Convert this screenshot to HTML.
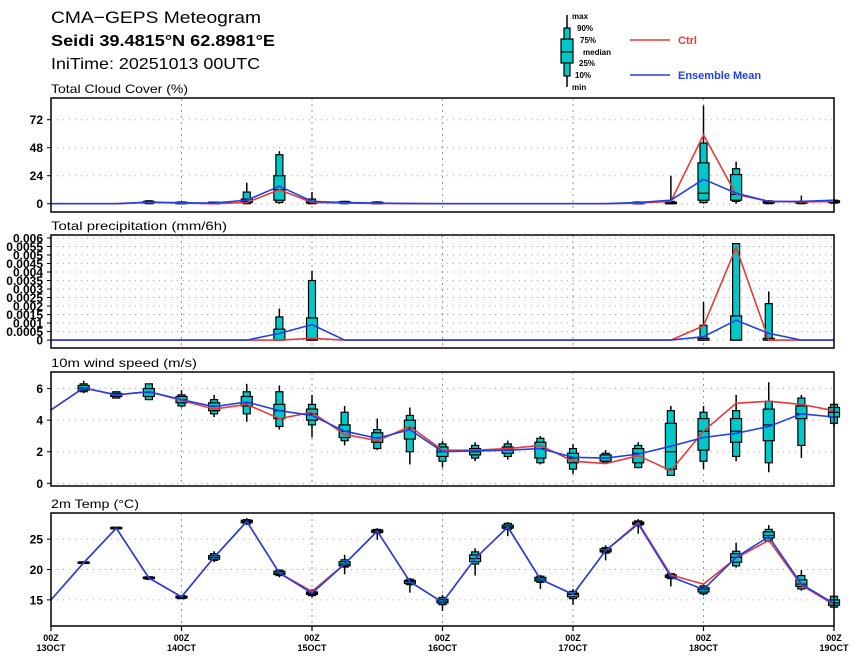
<!DOCTYPE html>
<html><head><meta charset="utf-8"><style>
html,body{margin:0;padding:0;background:#fff}
svg{display:block;font-family:"Liberation Sans",sans-serif}
</style></head><body>
<svg id="chart" width="860" height="663" viewBox="0 0 860 663" xmlns="http://www.w3.org/2000/svg">
<g>
<text x="51" y="23" font-size="17" textLength="210" lengthAdjust="spacingAndGlyphs">CMA−GEPS Meteogram</text>
<text x="51" y="46" font-size="16" font-weight="bold" textLength="224" lengthAdjust="spacingAndGlyphs">Seidi 39.4815°N 62.8981°E</text>
<text x="51" y="69" font-size="16" textLength="209" lengthAdjust="spacingAndGlyphs">IniTime: 20251013 00UTC</text>
</g>
<g font-size="8" font-weight="bold">
<line x1="567" y1="15" x2="567" y2="87" stroke="#000" stroke-width="1.5"/>
<rect x="564" y="28" width="6" height="48" fill="#00c8c8" stroke="#000" stroke-width="1.2"/>
<rect x="561" y="39" width="12" height="24" fill="#00c8c8" stroke="#000" stroke-width="1.2"/>
<line x1="561" y1="52" x2="573" y2="52" stroke="#000" stroke-width="1.2"/>
<text x="572" y="19">max</text><text x="577" y="31">90%</text><text x="580" y="43">75%</text>
<text x="583" y="55">median</text><text x="579" y="66">25%</text><text x="575" y="78">10%</text><text x="572" y="90">min</text>
<line x1="630" y1="40" x2="670" y2="40" stroke="#e83838" stroke-width="1.5"/>
<text x="678" y="44" font-size="11" fill="#e83838">Ctrl</text>
<line x1="630" y1="75" x2="670" y2="75" stroke="#2040e8" stroke-width="1.5"/>
<text x="678" y="79" font-size="11" fill="#2040e8">Ensemble Mean</text>
</g>
</svg>
<script>
const dayLabels = ["13OCT","14OCT","15OCT","16OCT","17OCT","18OCT","19OCT"];
// box tuples: [min,p10,p25,median,p75,p90,max], index 1..24 (index 0 none)
const cloudCtrl = [0,0,0,1,0.5,0,1,12,1,0.5,0.3,0,0,0,0,0,0,0,0.5,2,59,8,2,1.5,2];
const cloudMean = [0,0,0,1.5,0.8,0.5,3,15,2,1,0.5,0.3,0,0,0,0,0,0,1,3,21,9,2,2,3];
const cloudBox = [null,null,null,[0,0,0.5,1,2,2.5,3],[0,0,0,0.5,1,1.5,2],[0,0,0,0,0.5,1,1.5],[0,0,1,2,4,10,18],[0,1,3,12,24,42,45],[0,0,0.5,1,2,4,10],[0,0,0.5,1,1.5,2,2.5],[0,0,0,0.5,1,1.5,2],null,null,null,null,null,null,null,[0,0,0,0.5,1,1.5,2],[0,0,0,0.5,1,2,24],[0,1,3,9,35,52,84],[0,2,3,8,25,30,36],[0,0,0.5,1,2,2.5,3],[0,0,0.5,1,1.5,2,7],[0,0.5,1,2,2.5,3,4]];
const precCtrl = [0,0,0,0,0,0,0,0,0.0001,0,0,0,0,0,0,0,0,0,0,0,0.00083,0.00544,0,0,0];
const precMean = [0,0,0,0,0,0,0,0.00039,0.00091,0,0,0,0,0,0,0,0,0,0,0,0.0002,0.00117,0.0004,0,0];
const precBox = [null,null,null,null,null,null,null,[0,0,0,0,0.00064,0.00136,0.00185],[0,0,0,0,0.0013,0.0035,0.00408],null,null,null,null,null,null,null,null,null,null,null,[0,0,0,0,0.0001,0.00087,0.00223],[0,0,0,0,0.00142,0.00567,0.00567],[0,0,0,0,0.0001,0.00214,0.00286],null,null];
const windCtrl = [4.65,6.05,5.6,5.8,5.25,4.7,5.0,4.1,4.5,3.1,2.7,3.6,2.1,2.1,2.2,2.4,1.4,1.25,1.75,0.8,3.3,5.07,5.2,5.0,4.6];
const windMean = [4.65,6.05,5.6,5.8,5.3,4.85,5.15,4.6,4.3,3.3,2.85,3.4,2.0,2.05,2.1,2.2,1.65,1.6,1.85,2.35,2.9,3.17,3.6,4.4,4.2];
const windBox = [null,[5.7,5.8,5.9,6.05,6.2,6.3,6.5],[5.4,5.4,5.5,5.6,5.7,5.8,5.8],[5.3,5.3,5.5,5.75,6.0,6.3,6.3],[4.8,4.9,5.1,5.3,5.5,5.6,5.9],[4.2,4.4,4.6,4.9,5.1,5.3,5.6],[3.9,4.4,4.9,5.1,5.5,5.8,6.3],[3.4,3.6,4.1,4.6,5.0,5.8,6.2],[2.9,3.7,4.0,4.4,4.7,5.0,5.6],[2.4,2.7,2.9,3.3,3.7,4.5,4.9],[2.1,2.2,2.6,2.9,3.2,3.4,4.1],[1.2,2.0,2.8,3.5,4.0,4.3,4.8],[1.0,1.4,1.7,2.0,2.3,2.5,2.7],[1.4,1.6,1.8,2.0,2.2,2.4,2.6],[1.5,1.7,1.9,2.15,2.3,2.5,2.7],[1.2,1.3,1.6,2.2,2.6,2.85,3.0],[0.6,0.9,1.3,1.6,1.9,2.2,2.5],[1.3,1.35,1.4,1.6,1.8,1.9,2.1],[0.95,1.0,1.3,1.9,2.2,2.4,2.6],[0.5,0.5,0.9,2.0,3.8,4.6,4.9],[0.9,1.4,2.1,3.3,4.1,4.5,4.9],[1.4,1.7,2.6,3.3,4.1,4.6,5.6],[0.7,1.3,2.7,3.7,4.7,5.2,6.4],[1.6,2.4,4.1,4.4,4.9,5.4,5.6],[3.6,3.8,4.2,4.5,4.8,5.0,5.1]];
const tempCtrl = [15,21.1,26.8,18.6,15.5,22.0,27.9,19.4,16.4,20.9,26.3,18.0,14.6,21.8,27.0,18.4,15.9,23.1,27.7,19.1,17.6,21.9,24.8,17.4,14.2];
const tempMean = [15,21.1,26.8,18.6,15.5,22.0,27.9,19.4,16.1,20.9,26.3,18.0,14.6,21.8,27.0,18.4,15.9,23.1,27.5,18.8,16.7,22.0,25.4,17.6,14.4];
const tempBox = [null,[20.9,21.0,21.0,21.1,21.2,21.2,21.3],[26.7,26.7,26.7,26.8,26.9,26.9,27.0],[18.3,18.4,18.5,18.6,18.7,18.8,18.9],[15.2,15.2,15.3,15.5,15.6,15.7,15.8],[21.2,21.5,21.7,22.0,22.3,22.6,23.0],[27.3,27.5,27.7,27.9,28.1,28.2,28.5],[18.7,19.0,19.2,19.4,19.7,19.9,20.0],[15.4,15.7,15.9,16.1,16.3,16.5,16.8],[19.2,20.4,20.6,20.9,21.3,21.6,22.4],[24.9,26.0,26.1,26.3,26.5,26.6,26.8],[16.2,17.5,17.7,18.0,18.2,18.4,18.6],[13.2,14.2,14.5,14.8,15.1,15.4,15.8],[19.0,20.9,21.3,21.8,22.4,22.9,23.5],[25.5,26.6,26.8,27.0,27.3,27.6,27.8],[16.8,17.9,18.1,18.4,18.7,18.9,19.1],[14.2,15.2,15.5,15.9,16.1,16.4,16.8],[21.5,22.7,22.9,23.1,23.4,23.6,24.0],[25.9,27.2,27.4,27.6,27.8,28.0,28.3],[17.2,18.5,18.7,18.9,19.1,19.3,19.4],[15.7,16.0,16.3,16.7,17.0,17.3,17.5],[20.3,20.6,21.2,22.0,22.6,23.0,24.4],[24.5,24.7,25.2,25.6,26.2,26.6,27.3],[16.5,16.8,17.2,17.6,18.3,19.0,19.9],[13.6,13.8,14.1,14.5,15.0,15.6,15.8]];
const cloudTicks = [0,24,48,72];
const precTicks = [0,0.0005,0.001,0.0015,0.002,0.0025,0.003,0.0035,0.004,0.0045,0.005,0.0055,0.006];
const precTickLabels = ["0","0.0005","0.001","0.0015","0.002","0.0025","0.003","0.0035","0.004","0.0045","0.005","0.0055","0.006"];
const windTicks = [0,2,4,6];
const tempTicks = [15,20,25];

const svg = document.getElementById('chart');
const NS = 'http://www.w3.org/2000/svg';
const X0 = 51, X1 = 834, NSTEP = 24;
function xs(i){ return X0 + (X1 - X0) * i / NSTEP; }
function mk(tag, attrs, parent){ const e = document.createElementNS(NS, tag); for (const k in attrs) e.setAttribute(k, attrs[k]); (parent||svg).appendChild(e); return e; }

function panel(cfg){
  const g = mk('g', {});
  
  
  const ys = v => cfg.yb - (v - cfg.vmin) * (cfg.yb - cfg.yt) / (cfg.vmax - cfg.vmin);
  const t = mk('text', {x: 51, y: cfg.yt - 5, 'font-size': 12, textLength: cfg.titleLen, lengthAdjust: 'spacingAndGlyphs'}, g);
  t.textContent = cfg.title;
  
  
  cfg.ticks.forEach((v, k) => {
    const y = ys(v);
    mk('line', {x1: X0, x2: X1, y1: y, y2: y, stroke: '#aaa', 'stroke-width': 1, 'stroke-dasharray': '1,5'}, g);
    mk('line', {x1: X0 - 4, x2: X0, y1: y, y2: y, stroke: '#000', 'stroke-width': 1}, g);
    const lb = mk('text', {x: X0 - 8, y: y + 4.5, 'font-size': cfg.tickFont || 12, 'font-weight': 'bold', 'text-anchor': 'end'}, g);
    lb.textContent = cfg.tickLabels ? cfg.tickLabels[k] : String(v);
    
    
  });
  for (let d = 1; d < dayLabels.length - 1; d++) {
    const x = xs(d * 4);
    mk('line', {x1: x, x2: x, y1: cfg.yt, y2: cfg.yb, stroke: '#999', 'stroke-width': 1, 'stroke-dasharray': '2,4'}, g);
  }
  cfg.box.forEach((b, i) => {
    if (!b) return;
    const x = xs(i);
    const bg = mk('g', {}, g);
    
    
    mk('line', {x1: x, x2: x, y1: ys(b[0]), y2: ys(b[6]), stroke: '#000', 'stroke-width': 1.5}, bg);
    const h1 = Math.max(ys(b[1]) - ys(b[5]), 1.5);
    mk('rect', {x: x - 3.5, y: Math.min(ys(b[5]), ys(b[1]) - 1.5), width: 7, height: h1, fill: '#00c8c8', stroke: '#000', 'stroke-width': 1.2}, bg);
    const h2 = Math.max(ys(b[2]) - ys(b[4]), 1.5);
    mk('rect', {x: x - 5.5, y: Math.min(ys(b[4]), ys(b[2]) - 1.5), width: 11, height: h2, fill: '#00c8c8', stroke: '#000', 'stroke-width': 1.2}, bg);
    mk('line', {x1: x - 5.5, x2: x + 5.5, y1: ys(b[3]), y2: ys(b[3]), stroke: '#000', 'stroke-width': 1.2}, bg);
  });
  const pts = arr => arr.map((v, i) => xs(i).toFixed(1) + ',' + ys(v).toFixed(1)).join(' ');
  const rl = mk('polyline', {points: pts(cfg.ctrl), fill: 'none', stroke: '#e83838', 'stroke-width': 1.6}, g);
  
  
  const bl = mk('polyline', {points: pts(cfg.mean), fill: 'none', stroke: '#2040e8', 'stroke-width': 1.6}, g);
  
  
  mk('rect', {x: X0, y: cfg.yt, width: X1 - X0, height: cfg.yb - cfg.yt, fill: 'none', stroke: '#000', 'stroke-width': 1.5}, g);
}

panel({name: 'cloud', title: 'Total Cloud Cover (%)', titleLen: 137, yt: 98, yb: 212, vmin: -7.1, vmax: 90.6, ticks: cloudTicks, box: cloudBox, ctrl: cloudCtrl, mean: cloudMean});
panel({name: 'precip', title: 'Total precipitation (mm/6h)', titleLen: 176, yt: 235, yb: 348, vmin: -0.000466, vmax: 0.006175, ticks: precTicks, tickLabels: precTickLabels, tickFont: 12, box: precBox, ctrl: precCtrl, mean: precMean});
panel({name: 'wind', title: '10m wind speed (m/s)', titleLen: 146, yt: 372, yb: 486, vmin: -0.17, vmax: 7.05, ticks: windTicks, box: windBox, ctrl: windCtrl, mean: windMean});
panel({name: 'temp', title: '2m Temp (°C)', titleLen: 88, yt: 513, yb: 626, vmin: 10.7, vmax: 29.3, ticks: tempTicks, box: tempBox, ctrl: tempCtrl, mean: tempMean});

const xg = mk('g', {});


dayLabels.forEach((d, k) => {
  const x = xs(k * 4);
  mk('line', {x1: x, x2: x, y1: 626, y2: 631, stroke: '#000', 'stroke-width': 1.2}, xg);
  const t1 = mk('text', {x: x, y: 641, 'font-size': 9, 'font-weight': 'bold', 'text-anchor': 'middle'}, xg);
  t1.textContent = '00Z';
  
  
  const t2 = mk('text', {x: x, y: 651, 'font-size': 9, 'font-weight': 'bold', 'text-anchor': 'middle'}, xg);
  t2.textContent = d;
  
  
});
</script>
</body></html>
